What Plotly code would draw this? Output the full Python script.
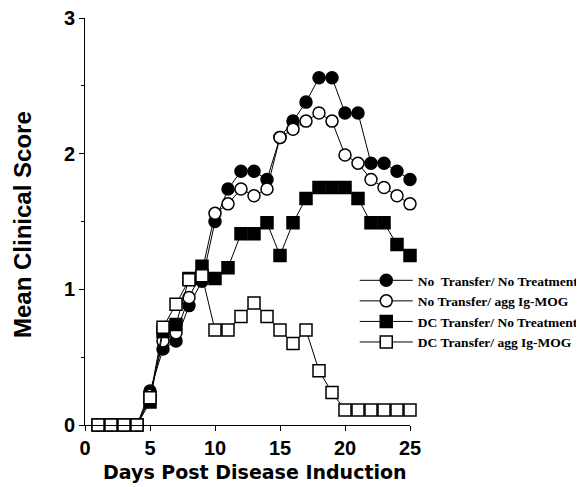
import plotly.graph_objects as go

days = list(range(1, 26))

no_transfer_no_treatment = [0, 0, 0, 0, 0.25, 0.56, 0.62, 0.88, 1.06, 1.50, 1.74, 1.87, 1.87,
                            1.81, 2.12, 2.24, 2.38, 2.56, 2.56, 2.30, 2.30, 1.93, 1.93, 1.87, 1.81]
no_transfer_agg_igmog = [0, 0, 0, 0, 0.22, 0.62, 0.68, 0.94, 1.13, 1.56, 1.63, 1.74, 1.69,
                         1.74, 2.12, 2.18, 2.24, 2.30, 2.24, 1.99, 1.93, 1.81, 1.75, 1.69, 1.63]
dc_transfer_no_treatment = [0, 0, 0, 0, 0.17, 0.69, 0.74, 1.08, 1.17, 1.08, 1.16, 1.41, 1.41,
                            1.49, 1.25, 1.49, 1.67, 1.75, 1.75, 1.75, 1.67, 1.49, 1.49, 1.33, 1.25]
dc_transfer_agg_igmog = [0, 0, 0, 0, 0.20, 0.72, 0.89, 1.07, 1.10, 0.70, 0.70, 0.80, 0.90,
                         0.80, 0.70, 0.60, 0.70, 0.40, 0.24, 0.11, 0.11, 0.11, 0.11, 0.11, 0.11]

series_names = ["No  Transfer/ No Treatment", "No Transfer/ agg Ig-MOG",
                "DC Transfer/ No Treatment", "DC Transfer/ agg Ig-MOG"]

x_ticks = [0, 5, 10, 15, 20, 25]
y_ticks = [0, 1, 2, 3]

x_title = "Days Post Disease Induction"
y_title = "Mean Clinical Score"

fig = go.Figure()

specs = [
    (no_transfer_no_treatment, "circle", "black"),
    (no_transfer_agg_igmog, "circle", "white"),
    (dc_transfer_no_treatment, "square", "black"),
    (dc_transfer_agg_igmog, "square", "white"),
]
for (vals, sym, fill), name in zip(specs, series_names):
    fig.add_trace(go.Scatter(
        x=days, y=vals, name=name, mode="lines+markers",
        line=dict(color="black", width=1),
        marker=dict(symbol=sym, size=12, color=fill, line=dict(color="black", width=1.5)),
        cliponaxis=False,
    ))

axis_font = dict(family="Liberation Sans", size=20, color="black", weight=700)

# page body has an 8px margin: figure is sized to fill the rest of the 584x487 window
W, H = 576, 479
L, T, R, B = 77, 10, 174, 62
PW, PH = W - L - R, H - T - B

fig.update_layout(
    width=W, height=H,
    margin=dict(l=L, r=R, t=T, b=B, autoexpand=False),
    paper_bgcolor="white", plot_bgcolor="white",
    showlegend=True,
    legend=dict(
        x=0.83, y=0.393, xanchor="left", yanchor="top",
        bgcolor="rgba(0,0,0,0)",
        font=dict(family="Liberation Serif", size=13.5, color="black", weight=700),
        itemwidth=53, tracegroupgap=0,
    ),
    xaxis=dict(
        range=[0, 25], tickvals=x_ticks, ticktext=[str(v) for v in x_ticks],
        showline=True, linecolor="black", linewidth=1,
        ticks="outside", ticklen=5, tickcolor="black", automargin=False,
        ticklabeloverflow="allow",
        showgrid=False, zeroline=False, tickfont=axis_font,
    ),
    yaxis=dict(
        range=[0, 3], tickvals=y_ticks, ticktext=[str(v) for v in y_ticks],
        showline=True, linecolor="black", linewidth=1,
        ticks="outside", ticklen=5, tickcolor="black", automargin=False,
        ticklabeloverflow="allow",
        minor=dict(dtick=0.5, ticks="outside", ticklen=3, tickcolor="black"),
        showgrid=False, zeroline=False, tickfont=axis_font,
    ),
    annotations=[
        dict(text=x_title, xref="paper", yref="paper",
             x=(247 - L) / PW, y=(T + PH - 464) / PH,
             xanchor="center", yanchor="middle", showarrow=False,
             font=dict(family="DejaVu Sans", size=19, color="black", weight=700)),
        dict(text=y_title, xref="paper", yref="paper",
             x=(15 - L) / PW, y=(T + PH - 217) / PH,
             xanchor="center", yanchor="middle", showarrow=False, textangle=-90,
             font=dict(family="Liberation Sans", size=24, color="black", weight=700)),
    ],
)

fig.write_html("out.html")
